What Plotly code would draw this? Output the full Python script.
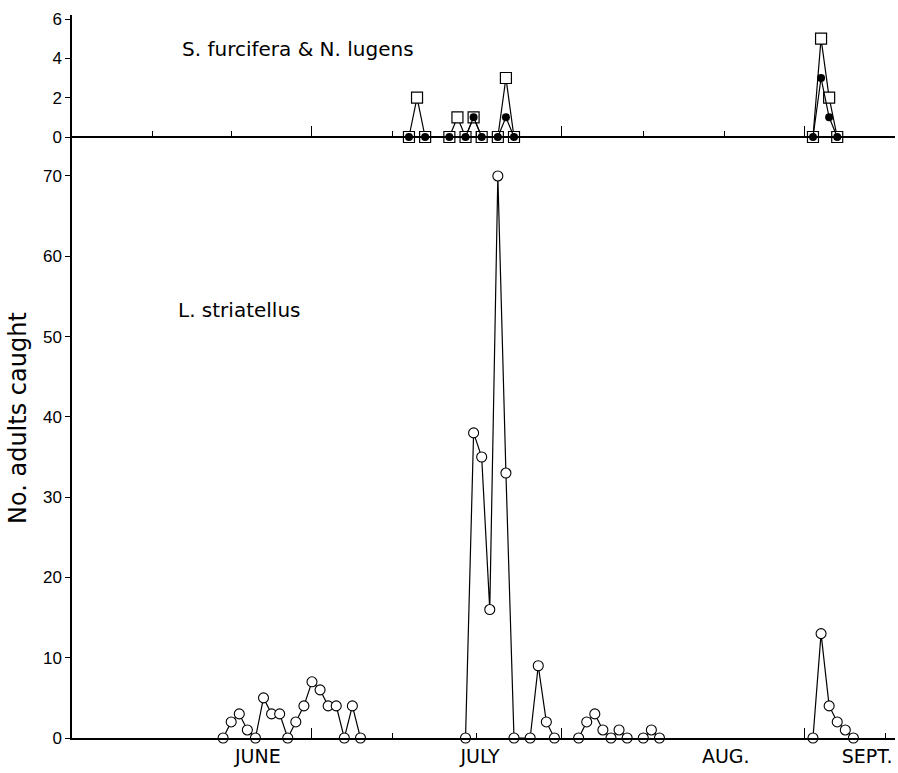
import plotly.graph_objects as go

# ---------------- data (x = days counted from the June tick) ----------------
# L. striatellus (open circles)
ls_days = [-11, -10, -9, -8, -7, -6, -5, -4, -3, -2, -1, 0, 1, 2, 3, 4, 5, 6, None,
           19, 20, 21, 22, 23, 24, 25, 27, 28, 29, 30, None,
           33, 34, 35, 36, 37, 38, 39, None,
           41, 42, 43, None,
           62, 63, 64, 65, 66, 67]
ls_counts = [0, 2, 3, 1, 0, 5, 3, 3, 0, 2, 4, 7, 6, 4, 4, 0, 4, 0, None,
             0, 38, 35, 16, 70, 33, 0, 0, 9, 2, 0, None,
             0, 2, 3, 1, 0, 1, 0, None,
             0, 1, 0, None,
             0, 13, 4, 2, 1, 0]

# S. furcifera (open squares)
sf_days = [12, 13, 14, None, 17, 18, 19, 20, 21, 23, 24, 25, None, 62, 63, 64, 65]
sf_counts = [0, 2, 0, None, 0, 1, 0, 1, 0, 0, 3, 0, None, 0, 5, 2, 0]

# N. lugens (filled circles)
nl_days = [12, 14, None, 17, 19, 20, 21, 23, 24, 25, None, 62, 63, 64, 65]
nl_counts = [0, 0, None, 0, 0, 1, 0, 0, 1, 0, None, 0, 3, 1, 0]

month_labels = ["JUNE", "JULY", "AUG.", "SEPT."]
month_label_pos = [-6.7, 20.8, 51.2, 68.7]
major_ticks = [0, 30.9, 61]
minor_ticks_top = [-19.8, -9.9, 10, 20.4, 41, 51.1]
minor_ticks_bottom = [10, 20.4, 71]
ls_yticks = [0, 10, 20, 30, 40, 50, 60, 70]
top_yticks = [0, 2, 4, 6]

# ---------------- figure ----------------
XR = [-29.70, 72.15]
TICKFONT = dict(family="Liberation Sans, Arial, sans-serif", size=17, color="black")
LW = 1.2

fig = go.Figure()

fig.add_trace(go.Scatter(
    x=sf_days, y=sf_counts, xaxis="x2", yaxis="y2", mode="lines+markers",
    line=dict(color="black", width=LW),
    marker=dict(symbol="square", size=11, color="white", line=dict(color="black", width=1.2)),
    cliponaxis=False, showlegend=False, name="S. furcifera"))
fig.add_trace(go.Scatter(
    x=nl_days, y=nl_counts, xaxis="x2", yaxis="y2", mode="lines+markers",
    line=dict(color="black", width=LW),
    marker=dict(symbol="circle", size=8, color="black"),
    cliponaxis=False, showlegend=False, name="N. lugens"))
fig.add_trace(go.Scatter(
    x=ls_days, y=ls_counts, xaxis="x", yaxis="y", mode="lines+markers",
    line=dict(color="black", width=LW),
    marker=dict(symbol="circle", size=10, color="white", line=dict(color="black", width=1.1)),
    cliponaxis=False, showlegend=False, name="L. striatellus"))
# carrier for the month-label axis
fig.add_trace(go.Scatter(x=[], y=[], xaxis="x3", yaxis="y", showlegend=False, hoverinfo="skip"))

H, W = 773, 898
top_px, bot_px = 15, 738
split_px = 145
zero_top_px = 137
ph = bot_px - top_px
split = (bot_px - split_px) / ph
zero_pos = (bot_px - zero_top_px) / ph

axis_common = dict(showgrid=False, zeroline=False, linecolor="black", linewidth=1.5,
                   tickcolor="black", tickwidth=1.3)

fig.update_layout(
    width=W, height=H, autosize=False,
    margin=dict(l=72, r=3, t=top_px, b=H - bot_px),
    paper_bgcolor="white", plot_bgcolor="white",
    xaxis=dict(domain=[0, 1], range=XR, anchor="y", showline=True, ticks="inside",
               tickmode="array", tickvals=major_ticks, ticktext=["", "", ""], ticklen=10,
               minor=dict(tickmode="array", tickvals=minor_ticks_bottom, ticks="inside",
                          ticklen=5, tickwidth=1.3, tickcolor="black"),
               **axis_common),
    xaxis3=dict(range=XR, overlaying="x", anchor="y", side="bottom", showline=False,
                ticks="", tickmode="array", tickvals=month_label_pos, ticktext=month_labels,
                tickfont=dict(family="DejaVu Sans, sans-serif", size=19, color="black"),
                ticklabelstandoff=5, showgrid=False, zeroline=False),
    xaxis2=dict(domain=[0, 1], range=XR, anchor="free", position=zero_pos, showline=True,
                ticks="inside", tickmode="array", tickvals=major_ticks, ticklen=10,
                showticklabels=False,
                minor=dict(tickmode="array", tickvals=minor_ticks_top, ticks="inside",
                           ticklen=5, tickwidth=1.3, tickcolor="black"),
                **axis_common),
    yaxis=dict(domain=[0, split], range=[0, (bot_px - split_px) / 8.029], anchor="x",
               showline=True, ticks="outside", ticklen=5, tickmode="array",
               tickvals=ls_yticks, tickfont=TICKFONT, **axis_common),
    yaxis2=dict(domain=[split, 1], range=[-(split_px - zero_top_px) / 19.667,
                                          (zero_top_px - top_px) / 19.667],
                anchor="x2", showline=True, ticks="outside", ticklen=5, tickmode="array",
                tickvals=top_yticks, tickfont=TICKFONT, **axis_common),
    annotations=[
        dict(text="S. furcifera &amp; N. lugens", xref="paper", yref="paper",
             x=(180 - 72) / 823, y=(bot_px - 49) / ph, xanchor="left", yanchor="middle",
             showarrow=False, font=dict(family="DejaVu Sans, sans-serif", size=20, color="black")),
        dict(text="L. striatellus", xref="paper", yref="paper",
             x=(176 - 72) / 823, y=(bot_px - 310) / ph, xanchor="left", yanchor="middle",
             showarrow=False, font=dict(family="DejaVu Sans, sans-serif", size=20, color="black")),
        dict(text="No. adults caught", xref="paper", yref="paper",
             x=(18 - 72) / 823, y=(bot_px - 418) / ph, xanchor="center", yanchor="middle",
             textangle=-90, showarrow=False,
             font=dict(family="DejaVu Sans, sans-serif", size=24, color="black")),
    ],
)

fig.write_html("out.html")
